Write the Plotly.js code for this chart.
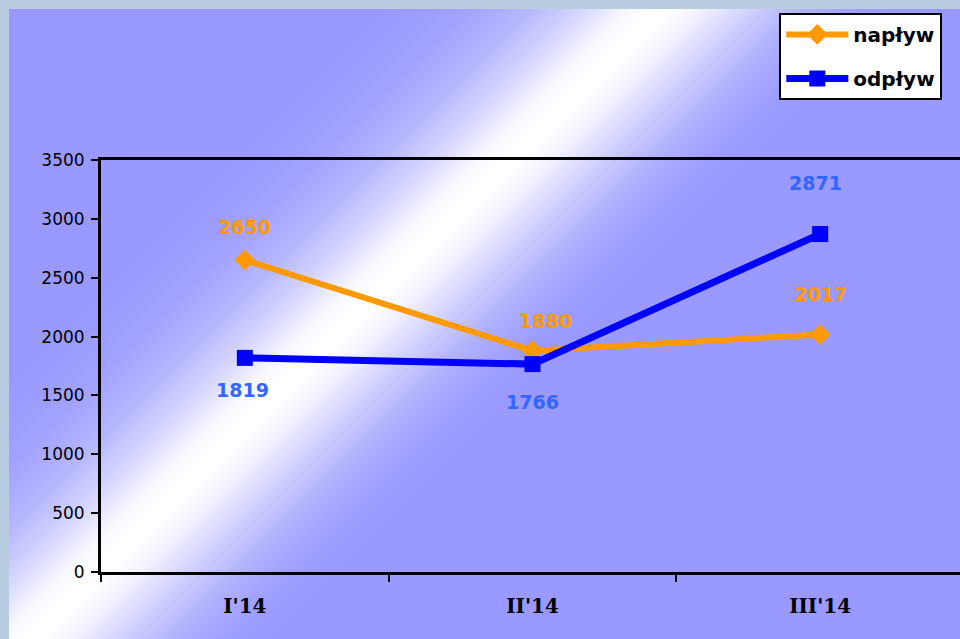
<!DOCTYPE html>
<html>
<head>
<meta charset="utf-8">
<script src="https://cdn.plot.ly/plotly-3.0.1.min.js"></script>
<style>
  html, body { margin:0; padding:0; width:960px; height:639px; overflow:hidden; background:#b9cde2; }
  #frame { position:absolute; left:9px; top:9px; width:951px; height:630px;
    background: linear-gradient(135deg, #9999ff 0%, #9999ff 24%, #a2a2ff 29%, #b6b6ff 33%, #d8d8ff 36.5%, #f6f6ff 39%, #ffffff 40.5%, #ffffff 42%, #f0f0ff 44%, #d0d0ff 47%, #afafff 50.5%, #9d9dff 54%, #9999ff 56%, #9999ff 100%); }
  #chart { position:absolute; left:0; top:0; width:970px; height:639px; }
</style>
</head>
<body>
<div id="frame"></div>
<div id="chart"></div>
<script>
const categories = ["I'14", "II'14", "III'14"];
const naplyw = [2650, 1880, 2017];
const odplyw = [1819, 1766, 2871];
const seriesNames = ["napływ", "odpływ"];
const yTicks = [0, 500, 1000, 1500, 2000, 2500, 3000, 3500];

const traces = [
  {
    x: categories, y: naplyw, name: seriesNames[0], type: 'scatter', mode: 'lines+markers',
    line: {color: '#ff9900', width: 6},
    marker: {symbol: 'diamond', size: 16, color: '#ff9900'},
    legendgroup: 'a'
  },
  {
    x: categories, y: odplyw, name: seriesNames[1], type: 'scatter', mode: 'lines+markers',
    line: {color: '#0000ff', width: 7},
    marker: {symbol: 'square', size: 16, color: '#0000ff'},
    legendgroup: 'b'
  }
];

// label offsets (styling)
const nShift = [[0, 33], [13, 30], [0, 41]];
const oShift = [[-2, -32], [0, -38], [-5, 51]];
const annotations = [];
naplyw.forEach((v, i) => annotations.push({
  x: categories[i], y: v, text: String(v), showarrow: false,
  xshift: nShift[i][0], yshift: nShift[i][1],
  font: {family: 'DejaVu Sans', size: 19, color: '#ff9900', weight: 'bold'}
}));
odplyw.forEach((v, i) => annotations.push({
  x: categories[i], y: v, text: String(v), showarrow: false,
  xshift: oShift[i][0], yshift: oShift[i][1],
  font: {family: 'DejaVu Sans', size: 19, color: '#3366ff', weight: 'bold'}
}));

const layout = {
  width: 970, height: 639,
  margin: {l: 101, r: 6, t: 160, b: 67},
  paper_bgcolor: 'rgba(0,0,0,0)',
  plot_bgcolor: 'rgba(0,0,0,0)',
  showlegend: true,
  legend: {
    x: 0.786, y: 1.357, xanchor: 'left', yanchor: 'top',
    bgcolor: '#ffffff', bordercolor: '#000000', borderwidth: 2,
    font: {family: 'DejaVu Sans', size: 20, color: '#000000', weight: 'bold'},
    traceorder: 'grouped', tracegroupgap: 15, itemwidth: 62
  },
  xaxis: {
    type: 'category',
    range: [-0.5, 2.5],
    tickson: 'boundaries', ticks: 'outside', ticklen: 7, tickwidth: 2, tickcolor: '#000',
    ticklabelstandoff: 14,
    showline: true, linecolor: '#000', linewidth: 3, mirror: true,
    showgrid: false, zeroline: false,
    tickfont: {family: 'DejaVu Serif', size: 20, color: '#000', weight: 'bold'}
  },
  yaxis: {
    range: [0, 3500],
    tickmode: 'array', tickvals: yTicks,
    ticks: 'outside', ticklen: 7, tickwidth: 2, tickcolor: '#000',
    ticklabelstandoff: 3,
    showline: true, linecolor: '#000', linewidth: 3,
    showgrid: false, zeroline: false,
    tickfont: {family: 'DejaVu Sans', size: 17, color: '#000'}
  },
  annotations: annotations
};

Plotly.newPlot('chart', traces, layout, {displayModeBar: false, staticPlot: true});
</script>
</body>
</html>
